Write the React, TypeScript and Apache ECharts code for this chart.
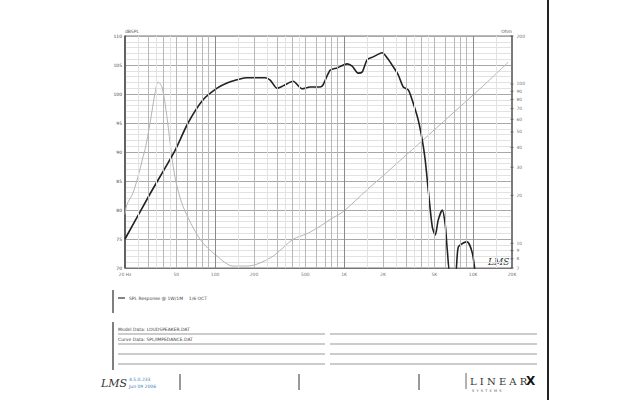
import React, { useEffect, useRef } from "react";
import * as echarts from "echarts";

// SPL response (black curve)
const splFreq = [20, 31.3, 48.9, 61.6, 80.6, 103.5, 123.6, 156, 177, 244, 267, 302, 336, 402, 472, 545, 652, 687, 778, 883, 1054, 1154, 1284, 1380, 1509, 1679, 1972, 2158, 2400, 2625, 2872, 3141, 3430, 3752, 4028, 4250, 4487, 4820, 5083, 5364, 5760, 6080, 6300, 6640, 7260, 7660, 8380, 8990, 9840, 10380];
const splDb = [75.0, 82.8, 90.3, 95.0, 99.0, 101.0, 101.9, 102.6, 102.8, 102.8, 102.4, 101.0, 101.4, 102.2, 100.9, 101.2, 101.2, 101.6, 104.1, 104.5, 105.2, 104.8, 103.6, 103.8, 105.9, 106.4, 107.1, 106.2, 104.7, 103.3, 101.2, 100.7, 98.4, 95.5, 92.1, 88.6, 83.4, 77.1, 75.7, 78.3, 80.0, 77.4, 73.1, 69.0, 69.0, 73.6, 74.3, 74.5, 72.6, 69.0];

// Impedance (grey curve)
const impFreq = [20, 20.7, 23.1, 26.1, 27.6, 28.6, 31.3, 34.2, 36.1, 38.7, 42.3, 44.7, 48.9, 56.4, 76.4, 103.5, 137.6, 177, 211, 281, 402, 516, 652, 778, 982, 1509, 2158, 2872, 4028, 6640, 11140, 18710];
const impOhm = [15.2, 17.5, 20.8, 29.0, 35.0, 38.7, 57.0, 87.9, 102.9, 95.7, 62.2, 42.8, 25.9, 17.0, 10.6, 8.3, 7.2, 7.2, 7.4, 8.3, 10.6, 11.5, 12.8, 14.1, 15.8, 21.7, 28.0, 34.5, 44.0, 63.4, 92.3, 137];

// Axis ticks
const freqLabelValues = [20, 50, 100, 200, 500, 1000, 2000, 5000, 10000, 20000];
const freqLabelTexts = ["20 Hz", "50", "100", "200", "500", "1K", "2K", "5K", "10K", "20K"];
const freqGridMain = [30, 40, 50, 60, 70, 80, 90, 200, 300, 400, 500, 600, 700, 800, 900, 2000, 3000, 4000, 5000, 6000, 7000, 8000, 9000];
const freqGridDecade = [100, 1000, 10000];
const freqGridMinor = [25, 35, 45, 150, 250, 350, 450, 1500, 2500, 3500, 4500, 15000];
const ohmLabelValues = [200, 100, 90, 80, 70, 60, 50, 40, 30, 20, 10, 9, 8, 7];

const F_MIN = 20;
const F_MAX = 20000;
const DB_MIN = 70;
const DB_MAX = 110;
const OHM_MIN = 7;
const OHM_MAX = 200;

const lg = (v: number) => Math.log10(v);

export default function App() {
  const ref = useRef<HTMLDivElement>(null);

  useEffect(() => {
    if (!ref.current) return;
    const chart = echarts.init(ref.current, undefined, { renderer: "svg" });

    const vLine = (f: number, color: string, width: number) => ({
      xAxis: lg(f),
      lineStyle: { color, width, type: "solid" },
    });

    const rowYs = [334, 344, 354, 364];
    const graphics: any[] = [
      { type: "line", shape: { x1: 548, y1: 0, x2: 548, y2: 400 }, style: { stroke: "#222", lineWidth: 2 } },
      { type: "line", shape: { x1: 113, y1: 290, x2: 113, y2: 313 }, style: { stroke: "#555", lineWidth: 1.5 } },
      { type: "line", shape: { x1: 113, y1: 322, x2: 113, y2: 370 }, style: { stroke: "#555", lineWidth: 1.5 } },
      { type: "line", shape: { x1: 118, y1: 298, x2: 125, y2: 298 }, style: { stroke: "#333", lineWidth: 1.2 } },
      { type: "text", x: 129, y: 298, style: { text: "SPL Response @ 1W/1M    1/6 OCT", fontSize: 4.5, fill: "#444", verticalAlign: "middle", fontFamily: "DejaVu Sans" } },
      { type: "text", x: 118, y: 332, style: { text: "Model Data: LOUDSPEAKER.DAT", fontSize: 4.5, fill: "#444", verticalAlign: "bottom", fontFamily: "DejaVu Sans" } },
      { type: "text", x: 118, y: 342, style: { text: "Curve Data: SPL/IMPEDANCE.DAT", fontSize: 4.5, fill: "#444", verticalAlign: "bottom", fontFamily: "DejaVu Sans" } },
      { type: "text", x: 101, y: 383, style: { text: "LMS", fontSize: 11, fill: "#333", fontStyle: "italic", fontFamily: "DejaVu Serif", verticalAlign: "middle" } },
      { type: "text", x: 129, y: 379, style: { text: "4.5.0.233", fontSize: 4.5, fill: "#3b7fb5", verticalAlign: "middle", fontFamily: "DejaVu Sans" } },
      { type: "text", x: 129, y: 386, style: { text: "Jun 09 2006", fontSize: 4.5, fill: "#3b7fb5", verticalAlign: "middle", fontFamily: "DejaVu Sans" } },
      { type: "line", shape: { x1: 466, y1: 373, x2: 466, y2: 389 }, style: { stroke: "#666", lineWidth: 1 } },
      { type: "text", x: 470, y: 381, style: { text: "L I N E A R", fontSize: 10, fill: "#333", verticalAlign: "middle", fontFamily: "DejaVu Serif" } },
      { type: "text", x: 526, y: 381, style: { text: "X", fontSize: 12, fill: "#111", fontWeight: "bold", verticalAlign: "middle", fontFamily: "DejaVu Sans" } },
      { type: "text", x: 472, y: 391, style: { text: "S  Y  S  T  E  M  S", fontSize: 3.5, fill: "#555", verticalAlign: "middle", fontFamily: "DejaVu Sans" } },
      { type: "text", x: 488, y: 262, style: { text: "LMS", fontSize: 9, fill: "#333", fontStyle: "italic", fontFamily: "DejaVu Serif", verticalAlign: "middle" } },
    ];
    rowYs.forEach((y) => {
      graphics.push({ type: "line", shape: { x1: 118, y1: y, x2: 325, y2: y }, style: { stroke: "#999", lineWidth: 1 } });
      graphics.push({ type: "line", shape: { x1: 330, y1: y, x2: 537, y2: y }, style: { stroke: "#999", lineWidth: 1 } });
    });
    [180, 299, 419].forEach((x) => {
      graphics.push({ type: "line", shape: { x1: x, y1: 374, x2: x, y2: 390 }, style: { stroke: "#777", lineWidth: 1.5 } });
    });

    const option: any = {
      animation: false,
      backgroundColor: "#fff",
      textStyle: { fontFamily: "DejaVu Sans" },
      grid: { left: 125, right: 128, top: 36, bottom: 132, show: true, borderColor: "#777", borderWidth: 1 },
      xAxis: {
        type: "value",
        min: lg(F_MIN),
        max: lg(F_MAX),
        axisLabel: { show: false },
        axisTick: { show: false },
        splitLine: { show: false },
        axisLine: { show: true, lineStyle: { color: "#777", width: 1 } },
      },
      yAxis: [
        {
          type: "value",
          min: DB_MIN,
          max: DB_MAX,
          interval: 5,
          name: "dBSPL",
          nameLocation: "end",
          nameGap: 2,
          nameTextStyle: { fontSize: 4.5, color: "#555", align: "left" },
          axisLine: { show: true, lineStyle: { color: "#444", width: 1.5 } },
          axisTick: { show: false },
          axisLabel: { fontSize: 4.5, color: "#444", margin: 3 },
          splitLine: { show: true, lineStyle: { color: "#a8a8a8", width: 1 } },
          minorTick: { show: false, splitNumber: 5 },
          minorSplitLine: { show: true, lineStyle: { color: "#e2e2e2", width: 1 } },
        },
        {
          type: "value",
          min: lg(OHM_MIN),
          max: lg(OHM_MAX),
          position: "right",
          name: "Ohm",
          nameLocation: "end",
          nameGap: 2,
          nameTextStyle: { fontSize: 4.5, color: "#555", align: "right" },
          axisLine: { show: true, lineStyle: { color: "#666", width: 1.5 } },
          axisTick: { show: false },
          axisLabel: { show: false },
          splitLine: { show: false },
        },
      ],
      series: [
        {
          type: "line",
          name: "grid",
          data: [],
          silent: true,
          markLine: {
            silent: true,
            symbol: "none",
            label: { show: false },
            data: [
              ...freqGridMinor.map((f) => vLine(f, "#e2e2e2", 1)),
              ...freqGridMain.map((f) => vLine(f, "#b8b8b8", 1)),
              ...freqGridDecade.map((f) => vLine(f, "#8a8a8a", 1)),
            ],
          },
        },
        {
          type: "scatter",
          name: "freqLabels",
          silent: true,
          clip: false,
          symbolSize: 1,
          itemStyle: { color: "rgba(0,0,0,0)" },
          data: freqLabelValues.map((f, i) => ({ value: [lg(f), DB_MIN], name: freqLabelTexts[i] })),
          label: { show: true, position: "bottom", distance: 3, fontSize: 4.5, color: "#444", formatter: (p: any) => p.name },
        },
        {
          type: "scatter",
          name: "ohmLabels",
          yAxisIndex: 1,
          silent: true,
          clip: false,
          symbol: "rect",
          symbolSize: [3, 1],
          itemStyle: { color: "#555" },
          data: ohmLabelValues.map((v) => ({ value: [lg(F_MAX), lg(v)], name: String(v) })),
          label: { show: true, position: "right", distance: 3, fontSize: 4.5, color: "#444", formatter: (p: any) => p.name },
        },
        {
          type: "line",
          name: "Impedance",
          yAxisIndex: 1,
          showSymbol: false,
          smooth: 0.3,
          clip: true,
          lineStyle: { color: "#b4b4b4", width: 1 },
          data: impFreq.map((f, i) => [lg(f), lg(impOhm[i])]),
        },
        {
          type: "line",
          name: "SPL",
          showSymbol: false,
          smooth: 0.25,
          clip: true,
          lineStyle: { color: "#222", width: 1.6 },
          data: splFreq.map((f, i) => [lg(f), splDb[i]]),
        },
      ],
      graphic: graphics,
    };

    chart.setOption(option);
    return () => chart.dispose();
  }, []);

  return (
    <div
      ref={ref}
      style={{ position: "fixed", left: 0, top: 0, width: 640, height: 400, background: "#fff" }}
    />
  );
}
